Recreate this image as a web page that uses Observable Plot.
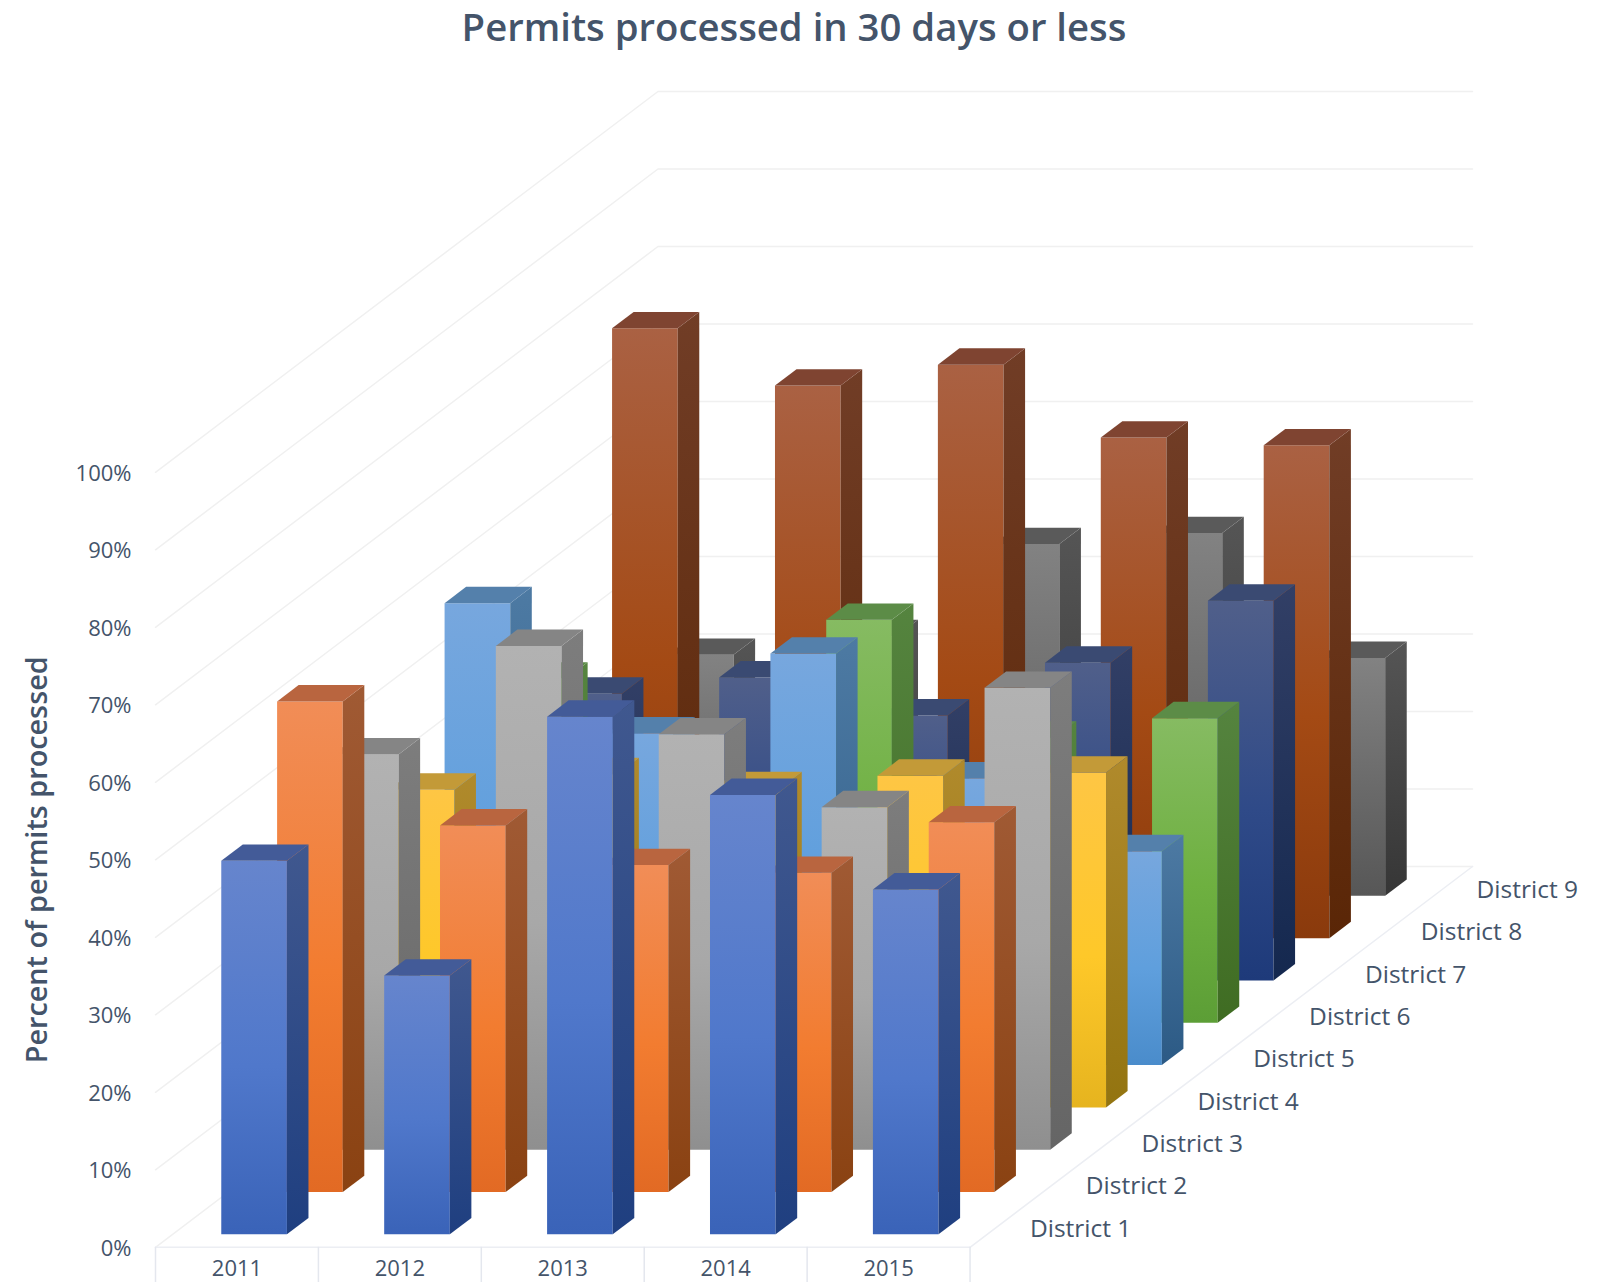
<!DOCTYPE html>
<html>
<head>
<meta charset="utf-8">
<title>Permits processed in 30 days or less</title>
<script src="https://cdn.jsdelivr.net/npm/d3@7"></script>
<script src="https://cdn.jsdelivr.net/npm/@observablehq/plot@0.6"></script>
<style>
  html, body { margin: 0; padding: 0; background: #fff; }
  h1 {
    margin: 0; height: 56px; text-align: center;
    font: 600 38.3px/52px "Open Sans", sans-serif; color: #44546a;
    width: 1588px;
  }
  svg { display: block; }
</style>
</head>
<body>
<h1>Permits processed in 30 days or less</h1>
<div id="chart"></div>
<script>
const years = [2011, 2012, 2013, 2014, 2015];
const districts = ["District 1", "District 2", "District 3", "District 4", "District 5",
                   "District 6", "District 7", "District 8", "District 9"];

// Percent of permits processed within 30 days, one list per district, 2011–2015
const district1 = [48.2, 33.4, 66.8, 56.7, 44.5];
const district2 = [63.3, 47.3, 42.2, 41.2, 47.7];
const district3 = [51.0, 65.0, 53.6, 44.2, 59.6];
const district4 = [41.0, 43.0, 41.2, 42.8, 43.2];
const district5 = [59.6, 42.8, 53.1, 37.0, 27.6];
const district6 = [44.4, 29.0, 52.0, 36.8, 39.3];
const district7 = [37.0, 39.1, 34.2, 41.0, 49.0];
const district8 = [78.7, 71.3, 74.0, 64.6, 63.6];
const district9 = [31.1, 33.5, 45.4, 46.8, 30.7];
const rows = [district1, district2, district3, district4, district5,
              district6, district7, district8, district9];

// Shading per district: front face top/middle/bottom, side face top/bottom, lid
const shades = [
  ["#6685cd", "#5078cb", "#3a63b8", "#40588f", "#1f3f80", "#435b98"],
  ["#f18d57", "#f27c30", "#e26a24", "#a05a34", "#8a4212", "#b9653f"],
  ["#b2b2b2", "#a8a8a8", "#8f8f8f", "#7d7d7d", "#656565", "#858585"],
  ["#fec644", "#fec829", "#e6b41f", "#b08a2c", "#937410", "#c39a38"],
  ["#77a7de", "#5f9fdd", "#4a8ccb", "#4d7aa3", "#2c5a85", "#5480ab"],
  ["#86bb62", "#6eb040", "#5c9e36", "#55843f", "#3f6c22", "#5c8c47"],
  ["#505f8a", "#2f4a88", "#1e3a7a", "#323f66", "#14284f", "#3a4a72"],
  ["#aa6143", "#a44a14", "#8a3a0c", "#713d26", "#5a2606", "#7f4431"],
  ["#828282", "#6a6a6a", "#575757", "#555555", "#363636", "#5a5a5a"]
];

// Oblique projection: each step back in depth shifts a point right (in year
// units) and up (in percent units).
const stepX = 0.3427, stepY = 5.46;
const depthCount = districts.length;
const backX = depthCount * stepX, backY = depthCount * stepY;
const barW = 0.403, barD = 0.386;
const below = -4.54; // room under the floor for the year labels
const ox = (col, depth) => col + depth * stepX;
const oy = (val, depth) => val + depth * stepY;

// Three polygons per bar, laid out from the rear row to the front
const faces = [];
for (let d = depthCount - 1; d >= 0; --d) {
  rows[d].forEach((value, c) => {
    const xl = c + 0.5 - barW / 2, xr = c + 0.5 + barW / 2;
    const df = d + 0.5 - barD / 2, db = d + 0.5 + barD / 2;
    const poly = (kind, pts) => pts.forEach(([col, val, dep]) =>
      faces.push({id: `${d}-${c}-${kind}`, fill: `url(#${kind}${d})`, x: ox(col, dep), y: oy(val, dep)}));
    poly("front", [[xl, 0, df], [xr, 0, df], [xr, value, df], [xl, value, df]]);
    poly("side", [[xr, 0, df], [xr, 0, db], [xr, value, db], [xr, value, df]]);
    poly("lid", [[xl, value, df], [xr, value, df], [xr, value, db], [xl, value, db]]);
  });
}

// Wall gridlines: up the left wall's depth, then along the back wall
const levels = d3.range(0, 101, 10);
const walls = levels.flatMap(v => [
  {v, x: 0, y: v}, {v, x: backX, y: v + backY}, {v, x: years.length + backX, y: v + backY}
]);
const floorEdges = [
  {k: "front", x: 0, y: 0}, {k: "front", x: years.length, y: 0},
  {k: "right", x: years.length, y: 0}, {k: "right", x: years.length + backX, y: backY}
];

// Vertical gradients referenced by the bar faces
function gradients() {
  const defs = d3.create("svg:defs");
  const add = (id, stops) => {
    const g = defs.append("linearGradient").attr("id", id)
      .attr("x1", 0).attr("y1", 0).attr("x2", 0).attr("y2", 1);
    stops.forEach(([o, c]) => g.append("stop").attr("offset", o).attr("stop-color", c));
  };
  shades.forEach((s, d) => {
    add(`front${d}`, [[0, s[0]], [0.55, s[1]], [1, s[2]]]);
    add(`side${d}`, [[0, s[3]], [1, s[4]]]);
    add(`lid${d}`, [[0, s[5]], [1, s[5]]]);
  });
  return defs.node();
}

const ink = "#44546a";
const bodyFont = "Open Sans";

const chart = Plot.plot({
  width: 1607, height: 1226,
  marginLeft: 155, marginRight: 135, marginTop: 35, marginBottom: 0,
  style: {background: "#fff", fontFamily: bodyFont},
  x: {domain: [0, years.length + backX], axis: null},
  y: {domain: [below, 100 + backY], axis: null},
  marks: [
    gradients,
    Plot.line(walls, {x: "x", y: "y", z: "v", stroke: "#f0f0f0", strokeWidth: 1.5}),
    Plot.line(floorEdges, {x: "x", y: "y", z: "k", stroke: "#eceef3", strokeWidth: 1.5}),
    Plot.ruleX(d3.range(0, years.length + 1), {y1: 0, y2: below, stroke: "#e4e7ee", strokeWidth: 1.5}),
    Plot.line(faces, {x: "x", y: "y", z: "id", fill: {value: "fill", scale: null},
                      stroke: "none", curve: "linear-closed"}),
    Plot.axisY(levels, {anchor: "left", tickSize: 0, tickPadding: 24, label: null, dy: 1.5,
                        tickFormat: d => `${d}%`, fontSize: 22, fill: ink}),
    Plot.text(["Percent of permits processed"], {frameAnchor: "left", y: 50, dx: -118,
      rotate: -90, textAnchor: "middle", fontSize: 28.8, fontWeight: 600, fill: ink}),
    Plot.text(years, {x: (d, i) => i + 0.5, y: -2.8, text: d => String(d), fontSize: 22, fill: ink}),
    Plot.text(districts, {x: (d, i) => ox(years.length, i + 0.5), y: (d, i) => oy(0, i + 0.5),
      text: d => d, dx: 32, dy: 2.5, textAnchor: "start", fontSize: 24.5, fill: ink})
  ]
});
document.getElementById("chart").append(chart);
</script>
</body>
</html>
